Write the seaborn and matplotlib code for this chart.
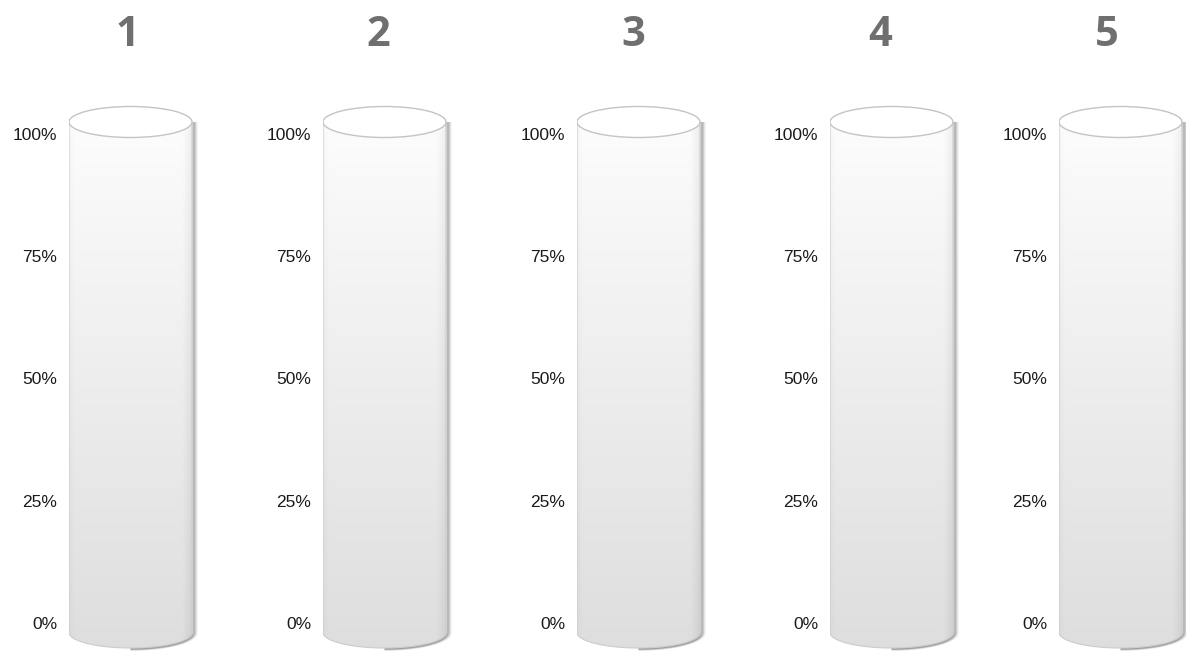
import numpy as np
import matplotlib
matplotlib.use("Agg")
import matplotlib.pyplot as plt
import seaborn as sns
from matplotlib.patches import Ellipse, PathPatch
from matplotlib.path import Path

sns.set_theme(style="white")
plt.rcParams['font.family'] = ['Liberation Sans', 'DejaVu Sans']

# ---- data ----
categories = ["1", "2", "3", "4", "5"]
fill_values = [0, 0, 0, 0, 0]          # percent filled in each cylinder
tick_values = [0, 25, 50, 75, 100]
tick_labels = ["0%", "25%", "50%", "75%", "100%"]

W, H = 1186, 652
fig = plt.figure(figsize=(W / 100, H / 100), dpi=100)
fig.patch.set_facecolor("white")

cyl_left = [69, 323, 577, 830, 1059]
title_x = [127, 378, 633, 880, 1107]
cyl_w = 123
pad_w = 14
px0, scale = 623.0, 4.89          # pixel row of 0 %, pixels per %
top_px = 100

def py(p):
    return (px0 - p) / scale

ell_h = 31 / scale
top_c = py(122)
bot_c = py(632.5)

for i, cat in enumerate(categories):
    ax = fig.add_axes([cyl_left[i] / W, 0, (cyl_w + pad_w) / W, (H - top_px) / H])
    ax.set_xlim(0, cyl_w + pad_w)
    ax.set_ylim(py(H), py(top_px))

    # soft shadow on the right / bottom
    theta = np.linspace(0, -np.pi / 2, 30)
    for dx, a in [(1.5, 0.5), (3.0, 0.32), (4.5, 0.15)]:
        xs = [cyl_w + dx] + [cyl_w / 2 + (cyl_w / 2 + dx) * np.cos(t) for t in theta]
        ys = [top_c] + [bot_c + (ell_h / 2 + dx * 0.08) * np.sin(t) for t in theta]
        ax.plot(xs, ys, color="#7a7a7a", alpha=a, lw=1.6, solid_capstyle="butt", zorder=1)

    # body path: rectangle with rounded bottom (half ellipse)
    th = np.linspace(0, -np.pi, 60)
    verts = [(0, top_c), (cyl_w, top_c)]
    verts += [(cyl_w / 2 + cyl_w / 2 * np.cos(t), bot_c + ell_h / 2 * np.sin(t)) for t in th]
    verts += [(0, top_c)]
    body = PathPatch(Path(verts, closed=True), facecolor="none", edgecolor="none")
    ax.add_patch(body)

    # gradient fill
    ny, nx = 200, 60
    yy = np.linspace(0, 1, ny)[:, None]
    xx = np.linspace(0, 1, nx)[None, :]
    v = 0.99 - 0.12 * yy
    v = v - 0.05 * np.clip((xx - 0.93) / 0.07, 0, 1)
    v = v - 0.02 * np.clip((0.04 - xx) / 0.04, 0, 1)
    im = ax.imshow(np.repeat(v[:, :, None], 3, axis=2),
                   extent=(0, cyl_w, bot_c - ell_h / 2, top_c),
                   aspect="auto", origin="upper", zorder=2, interpolation="bilinear")
    im.set_clip_path(body)
    ax.plot([p[0] for p in verts], [p[1] for p in verts], color="#cccccc", lw=0.8, zorder=3)

    # fill level drawn by seaborn (zero height here)
    sns.barplot(x=[cyl_w / 2], y=[fill_values[i]], native_scale=True, ax=ax,
                color="#5b9bd5", linewidth=0, width=cyl_w, zorder=2.5)
    ax.set_xlim(0, cyl_w + pad_w)
    ax.set_ylim(py(H), py(top_px))

    # top ellipse
    ax.add_patch(Ellipse((cyl_w / 2, top_c), cyl_w, ell_h, facecolor="#ffffff",
                         edgecolor="#c4c4c4", lw=1.0, zorder=4))

    ax.set_yticks(tick_values)
    ax.set_yticklabels(tick_labels, fontsize=12.5, color="#1a1a1a")
    ax.set_xticks([])
    ax.set_xlabel("")
    ax.set_ylabel("")
    ax.tick_params(axis="y", length=0, pad=8.5)
    for s in ax.spines.values():
        s.set_visible(False)
    ax.set_facecolor("none")

    fig.text(title_x[i] / W, 1 - 35 / H, cat, ha="center", va="center",
             fontsize=30, fontweight="bold", color="#6f6f6f", family="Open Sans")

fig.savefig("out.png", dpi=100, facecolor="white")
